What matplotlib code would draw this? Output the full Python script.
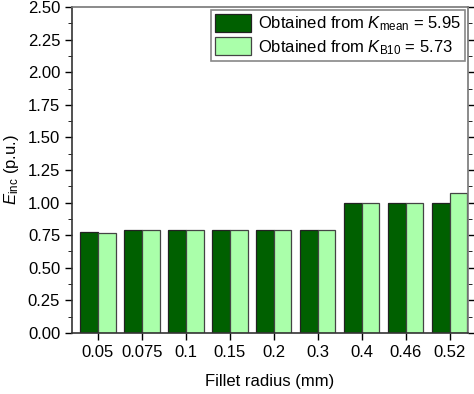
import numpy as np
import matplotlib.pyplot as plt
from matplotlib.ticker import MultipleLocator

plt.rcParams['font.family'] = ['Liberation Sans', 'DejaVu Sans']
plt.rcParams['mathtext.fontset'] = 'custom'
plt.rcParams['mathtext.rm'] = 'Liberation Sans'
plt.rcParams['mathtext.it'] = 'Liberation Sans:italic'

radius = ['0.05', '0.075', '0.1', '0.15', '0.2', '0.3', '0.4', '0.46', '0.52']
e_mean = [0.775, 0.79, 0.79, 0.79, 0.79, 0.79, 1.0, 1.0, 1.0]
e_b10 = [0.765, 0.79, 0.79, 0.79, 0.79, 0.79, 1.0, 1.0, 1.07]

fig = plt.figure(figsize=(4.74, 3.94), dpi=100)
ax = fig.add_axes([0.152, 0.155, 0.835, 0.827])

x = np.arange(len(radius))
w = 0.4
ax.bar(x - w / 2, e_mean, w, color='#006000', edgecolor='#222222', linewidth=0.9,
       label=r'Obtained from $K_{\mathrm{mean}}$ = 5.95')
ax.bar(x + w / 2, e_b10, w, color='#aaffaa', edgecolor='#444444', linewidth=0.9,
       label=r'Obtained from $K_{\mathrm{B10}}$ = 5.73')

ax.set_xlim(-0.59, 8.41)
ax.set_ylim(0, 2.5)
ax.set_xticks(x)
ax.set_xticklabels(radius)
ax.yaxis.set_major_locator(MultipleLocator(0.25))
ax.yaxis.set_minor_locator(MultipleLocator(0.125))
ax.yaxis.set_major_formatter('{x:.2f}')
ax.tick_params(axis='both', direction='out', labelsize=12, length=5, width=1)
ax.tick_params(axis='y', which='minor', direction='out', length=3, right=True)
ax.tick_params(axis='y', which='major', right=True)

for s in ['left', 'bottom']:
    ax.spines[s].set_color('#333333')
for s in ['top', 'right']:
    ax.spines[s].set_color('#777777')
for s in ax.spines.values():
    s.set_linewidth(1.2)

ax.set_xlabel('Fillet radius (mm)', fontsize=12, labelpad=10)
ax.set_ylabel(r'$E_{\mathrm{inc}}$ (p.u.)', fontsize=12, labelpad=5)

leg = ax.legend(loc='upper right', fontsize=12, fancybox=False, framealpha=1,
                edgecolor='#888888', handlelength=2.2, handleheight=1.3,
                handletextpad=0.4, borderpad=0.25, labelspacing=0.25,
                borderaxespad=0.15)
leg.get_frame().set_linewidth(1.2)

fig.savefig('out.png', dpi=100)
